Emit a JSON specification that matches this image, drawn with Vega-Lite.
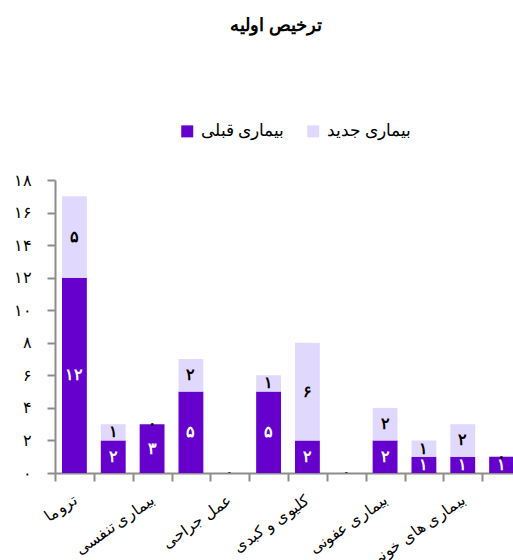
{
  "$schema": "https://vega.github.io/schema/vega-lite/v6.json",
  "autosize": "none",
  "width": 458,
  "height": 293,
  "padding": {"left": 55, "top": 180, "right": 0, "bottom": 87},
  "background": "white",
  "config": {"view": {"stroke": null}, "font": "Liberation Serif"},
  "title": {"text": "ترخیص اولیه", "fontSize": 18, "fontWeight": "bold", "color": "black", "anchor": "middle", "dx": -8, "baseline": "bottom", "offset": 70},
  "data": {"values": [
    {"category": "تروما", "type": "بیماری قبلی", "count": 12},
    {"category": "تروما", "type": "بیماری جدید", "count": 5},
    {"category": "بیماری قلبی", "type": "بیماری قبلی", "count": 2},
    {"category": "بیماری قلبی", "type": "بیماری جدید", "count": 1},
    {"category": "بیماری تنفسی", "type": "بیماری قبلی", "count": 3},
    {"category": "بیماری تنفسی", "type": "بیماری جدید", "count": 0},
    {"category": "بیماری گوارشی", "type": "بیماری قبلی", "count": 5},
    {"category": "بیماری گوارشی", "type": "بیماری جدید", "count": 2},
    {"category": "عمل جراحی", "type": "بیماری قبلی", "count": 0},
    {"category": "عمل جراحی", "type": "بیماری جدید", "count": 0},
    {"category": "بیماری عصبی", "type": "بیماری قبلی", "count": 5},
    {"category": "بیماری عصبی", "type": "بیماری جدید", "count": 1},
    {"category": "کلیوی و کبدی", "type": "بیماری قبلی", "count": 2},
    {"category": "کلیوی و کبدی", "type": "بیماری جدید", "count": 6},
    {"category": "مسمومیت", "type": "بیماری قبلی", "count": 0},
    {"category": "مسمومیت", "type": "بیماری جدید", "count": 0},
    {"category": "بیماری عفونی", "type": "بیماری قبلی", "count": 2},
    {"category": "بیماری عفونی", "type": "بیماری جدید", "count": 2},
    {"category": "بیماری متابولیک", "type": "بیماری قبلی", "count": 1},
    {"category": "بیماری متابولیک", "type": "بیماری جدید", "count": 1},
    {"category": "بیماری های خونی", "type": "بیماری قبلی", "count": 1},
    {"category": "بیماری های خونی", "type": "بیماری جدید", "count": 2},
    {"category": "سایر", "type": "بیماری قبلی", "count": 1},
    {"category": "سایر", "type": "بیماری جدید", "count": 0}
  ]},
  "transform": [
    {"stack": "count", "groupby": ["category"], "sort": [{"field": "type", "order": "descending"}], "as": ["y0", "y1"]},
    {"calculate": "(datum.y0 + datum.y1) / 2", "as": "ymid"},
    {"calculate": "replace(replace(replace(replace(replace(replace(replace(replace(replace(replace(toString(datum.count),'0','۰'),'1','۱'),'2','۲'),'3','۳'),'4','۴'),'5','۵'),'6','۶'),'7','۷'),'8','۸'),'9','۹')", "as": "lbl"}
  ],
  "encoding": {
    "x": {
      "field": "category", "type": "nominal",
      "sort": ["تروما", "بیماری قلبی", "بیماری تنفسی", "بیماری گوارشی", "عمل جراحی", "بیماری عصبی", "کلیوی و کبدی", "مسمومیت", "بیماری عفونی", "بیماری متابولیک", "بیماری های خونی", "سایر"],
      "scale": {"range": [0, 466], "paddingInner": 0, "paddingOuter": 0},
      "axis": {
        "title": null, "tickBand": "extent", "labelAngle": -35, "labelFontSize": 15.5, "labelColor": "black",
        "domainColor": "#8c8c8c", "tickColor": "#8c8c8c", "domainWidth": 2, "tickWidth": 2, "tickSize": 8,
        "labelPadding": 11, "labelOffset": -4, "labelOverlap": false,
        "labelExpr": "indexof(['تروما','بیماری تنفسی','عمل جراحی','کلیوی و کبدی','بیماری عفونی','بیماری های خونی'], datum.value) >= 0 ? datum.label : ''"
      }
    }
  },
  "layer": [
    {
      "mark": {"type": "bar", "width": {"band": 0.64}, "clip": true},
      "encoding": {
        "y": {
          "field": "y0", "type": "quantitative", "scale": {"domain": [0, 18]},
          "axis": {
            "title": null, "values": [0, 2, 4, 6, 8, 10, 12, 14, 16, 18], "grid": false, "labelOverlap": false,
            "tickSize": 8, "labelPadding": 16, "labelFontSize": 16, "labelColor": "black",
            "domainColor": "#8c8c8c", "tickColor": "#8c8c8c", "domainWidth": 2, "tickWidth": 2,
            "labelExpr": "replace(replace(replace(replace(replace(replace(replace(replace(replace(replace(toString(datum.value),'0','۰'),'1','۱'),'2','۲'),'3','۳'),'4','۴'),'5','۵'),'6','۶'),'7','۷'),'8','۸'),'9','۹')"
          }
        },
        "y2": {"field": "y1"},
        "color": {
          "field": "type", "type": "nominal",
          "scale": {"domain": ["بیماری قبلی", "بیماری جدید"], "range": ["#6600cc", "#e1d9fd"]},
          "legend": {
            "title": null, "orient": "none", "direction": "horizontal", "legendX": 124, "legendY": -57,
            "symbolType": "square", "symbolSize": 144, "symbolStrokeWidth": 0, "labelFontSize": 16.5,
            "labelColor": "black", "labelOffset": 5, "columnPadding": 21, "padding": 0
          }
        }
      }
    },
    {
      "mark": {"type": "text", "fontSize": 16, "fontWeight": "bold", "baseline": "middle", "align": "center", "clip": true},
      "encoding": {
        "y": {
          "field": "ymid", "type": "quantitative", "scale": {"domain": [0, 18]},
          "axis": {
            "title": null, "values": [0, 2, 4, 6, 8, 10, 12, 14, 16, 18], "grid": false, "labelOverlap": false,
            "tickSize": 8, "labelPadding": 16, "labelFontSize": 16, "labelColor": "black",
            "domainColor": "#8c8c8c", "tickColor": "#8c8c8c", "domainWidth": 2, "tickWidth": 2,
            "labelExpr": "replace(replace(replace(replace(replace(replace(replace(replace(replace(replace(toString(datum.value),'0','۰'),'1','۱'),'2','۲'),'3','۳'),'4','۴'),'5','۵'),'6','۶'),'7','۷'),'8','۸'),'9','۹')"
          }
        },
        "text": {"field": "lbl"},
        "color": {"condition": {"test": "datum.type == 'بیماری قبلی'", "value": "white"}, "value": "black"}
      }
    }
  ]
}
